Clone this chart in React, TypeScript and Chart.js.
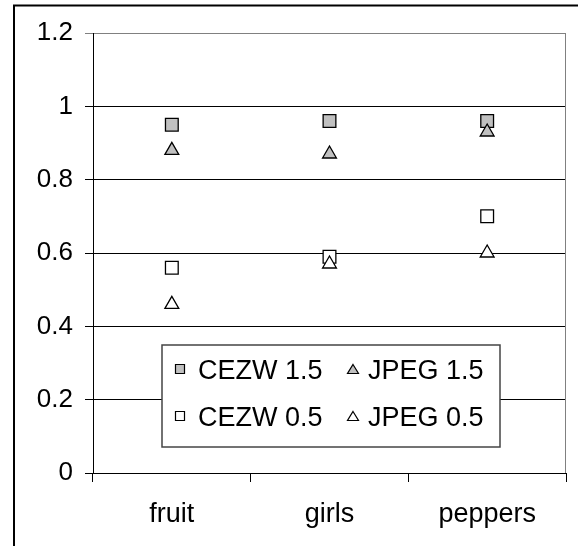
import React, { useEffect, useRef } from "react";
import { Chart, registerables } from "chart.js";

Chart.register(...registerables);

const categories = ["fruit", "girls", "peppers"];
const seriesNames = ["CEZW 1.5", "JPEG 1.5", "CEZW 0.5", "JPEG 0.5"];
const cezw15 = [0.95, 0.96, 0.96];
const jpeg15 = [0.88, 0.87, 0.93];
const cezw05 = [0.56, 0.59, 0.7];
const jpeg05 = [0.46, 0.57, 0.6];
const yTickLabels = ["0", "0.2", "0.4", "0.6", "0.8", "1", "1.2"];

const FONT = "'Liberation Sans', Arial, sans-serif";
const GRAY_FILL = "#C0C0C0";

function drawMarker(ctx: CanvasRenderingContext2D, style: string, x: number, y: number, w: number, h: number, fill: string) {
  ctx.save();
  ctx.fillStyle = fill;
  ctx.strokeStyle = "#000";
  ctx.lineWidth = 1.2;
  ctx.beginPath();
  if (style === "rect") {
    ctx.rect(x - w / 2, y - h / 2, w, h);
  } else {
    ctx.moveTo(x, y - h / 2);
    ctx.lineTo(x + w / 2, y + h / 2);
    ctx.lineTo(x - w / 2, y + h / 2);
    ctx.closePath();
  }
  ctx.fill();
  ctx.stroke();
  ctx.restore();
}

const framePlugin = {
  id: "framePlugin",
  beforeDraw(chart: any) {
    const ctx = chart.ctx as CanvasRenderingContext2D;
    ctx.save();
    ctx.fillStyle = "#fff";
    ctx.fillRect(0, 0, chart.width, chart.height);
    ctx.strokeStyle = "#000";
    ctx.lineWidth = 2;
    ctx.beginPath();
    ctx.moveTo(14, chart.height);
    ctx.lineTo(14, 5.5);
    ctx.lineTo(chart.width, 5.5);
    ctx.stroke();
    ctx.restore();
  },
  beforeDatasetsDraw(chart: any) {
    const ctx = chart.ctx as CanvasRenderingContext2D;
    const { top, right, bottom } = chart.chartArea;
    ctx.save();
    ctx.strokeStyle = "#808080";
    ctx.lineWidth = 1;
    ctx.beginPath();
    ctx.moveTo(Math.round(right) - 0.5, top);
    ctx.lineTo(Math.round(right) - 0.5, bottom);
    ctx.stroke();
    ctx.restore();
  },
  afterDatasetsDraw(chart: any) {
    const ctx = chart.ctx as CanvasRenderingContext2D;
    const { left, top } = chart.chartArea;
    const bx = left + 69;
    const by = top + 312;
    const bw = 338;
    const bh = 102;
    ctx.save();
    ctx.fillStyle = "#fff";
    ctx.fillRect(bx, by, bw, bh);
    ctx.strokeStyle = "#444";
    ctx.lineWidth = 1.5;
    ctx.strokeRect(bx, by, bw, bh);
    ctx.font = `27px ${FONT}`;
    ctx.textBaseline = "middle";
    ctx.textAlign = "left";
    ctx.fillStyle = "#000";
    const colMarkerX = [bx + 18, bx + 191];
    const colTextX = [bx + 36, bx + 206];
    const rowY = [by + 26, by + 73];
    chart.data.datasets.forEach((ds: any, i: number) => {
      const col = i % 2;
      const row = Math.floor(i / 2);
      const style = ds.pointStyle;
      if (style === "rect") {
        drawMarker(ctx, "rect", colMarkerX[col], rowY[row] - 2, 9, 9, ds.pointBackgroundColor);
      } else {
        drawMarker(ctx, "triangle", colMarkerX[col], rowY[row] - 2, 11, 9, ds.pointBackgroundColor);
      }
      ctx.fillStyle = "#000";
      ctx.fillText(seriesNames[i], colTextX[col], rowY[row] + 1);
    });
    ctx.restore();
  },
};

export default function App() {
  const ref = useRef<HTMLCanvasElement>(null);
  useEffect(() => {
    const canvas = ref.current!;
    const mk = (label: string, data: number[], style: string, fill: string, order: number) => ({
      label,
      data,
      showLine: false,
      pointStyle: style,
      pointRadius: style === "rect" ? 9 : 8,
      pointHoverRadius: style === "rect" ? 9 : 8,
      pointBackgroundColor: fill,
      pointBorderColor: "#000",
      pointBorderWidth: 1.3,
      backgroundColor: fill,
      borderColor: "#000",
      order,
    });
    const chart = new Chart(canvas, {
      type: "line",
      data: {
        labels: categories,
        datasets: [
          mk(seriesNames[0], cezw15, "rect", GRAY_FILL, 1),
          mk(seriesNames[1], jpeg15, "triangle", GRAY_FILL, 0),
          mk(seriesNames[2], cezw05, "rect", "#FFFFFF", 1),
          mk(seriesNames[3], jpeg05, "triangle", "#FFFFFF", 0),
        ],
      },
      options: {
        animation: false,
        responsive: false,
        layout: { padding: { left: 0, top: 33, right: 12, bottom: 0 } },
        plugins: {
          legend: { display: false },
          tooltip: { enabled: false },
        },
        scales: {
          x: {
            type: "category",
            offset: true,
            afterFit: (s: any) => {
              s.height = 73;
            },
            grid: {
              offset: true,
              drawOnChartArea: false,
              drawTicks: true,
              tickLength: 9,
              color: "#000",
            },
            border: { display: true, color: "#000", width: 1 },
            ticks: {
              color: "#000",
              padding: 16,
              font: { family: FONT, size: 27 },
            },
          },
          y: {
            min: 0,
            max: 1.2,
            afterFit: (s: any) => {
              s.width = 93;
            },
            ticks: {
              stepSize: 0.2,
              color: "#000",
              padding: 12,
              font: { family: FONT, size: 26 },
              callback: (v: any) => yTickLabels[Math.round(Number(v) * 5)],
            },
            grid: {
              color: (c: any) => (c.tick && Math.round(c.tick.value * 5) === 6 ? "#808080" : "#000"),
              tickLength: 8,
              drawTicks: true,
            },
            border: { display: true, color: "#000", width: 1 },
          },
        },
      },
      plugins: [framePlugin],
    });
    return () => chart.destroy();
  }, []);
  return (
    <canvas
      ref={ref}
      width={578}
      height={546}
      style={{ position: "absolute", left: 0, top: 0, width: 578, height: 546 }}
    />
  );
}
